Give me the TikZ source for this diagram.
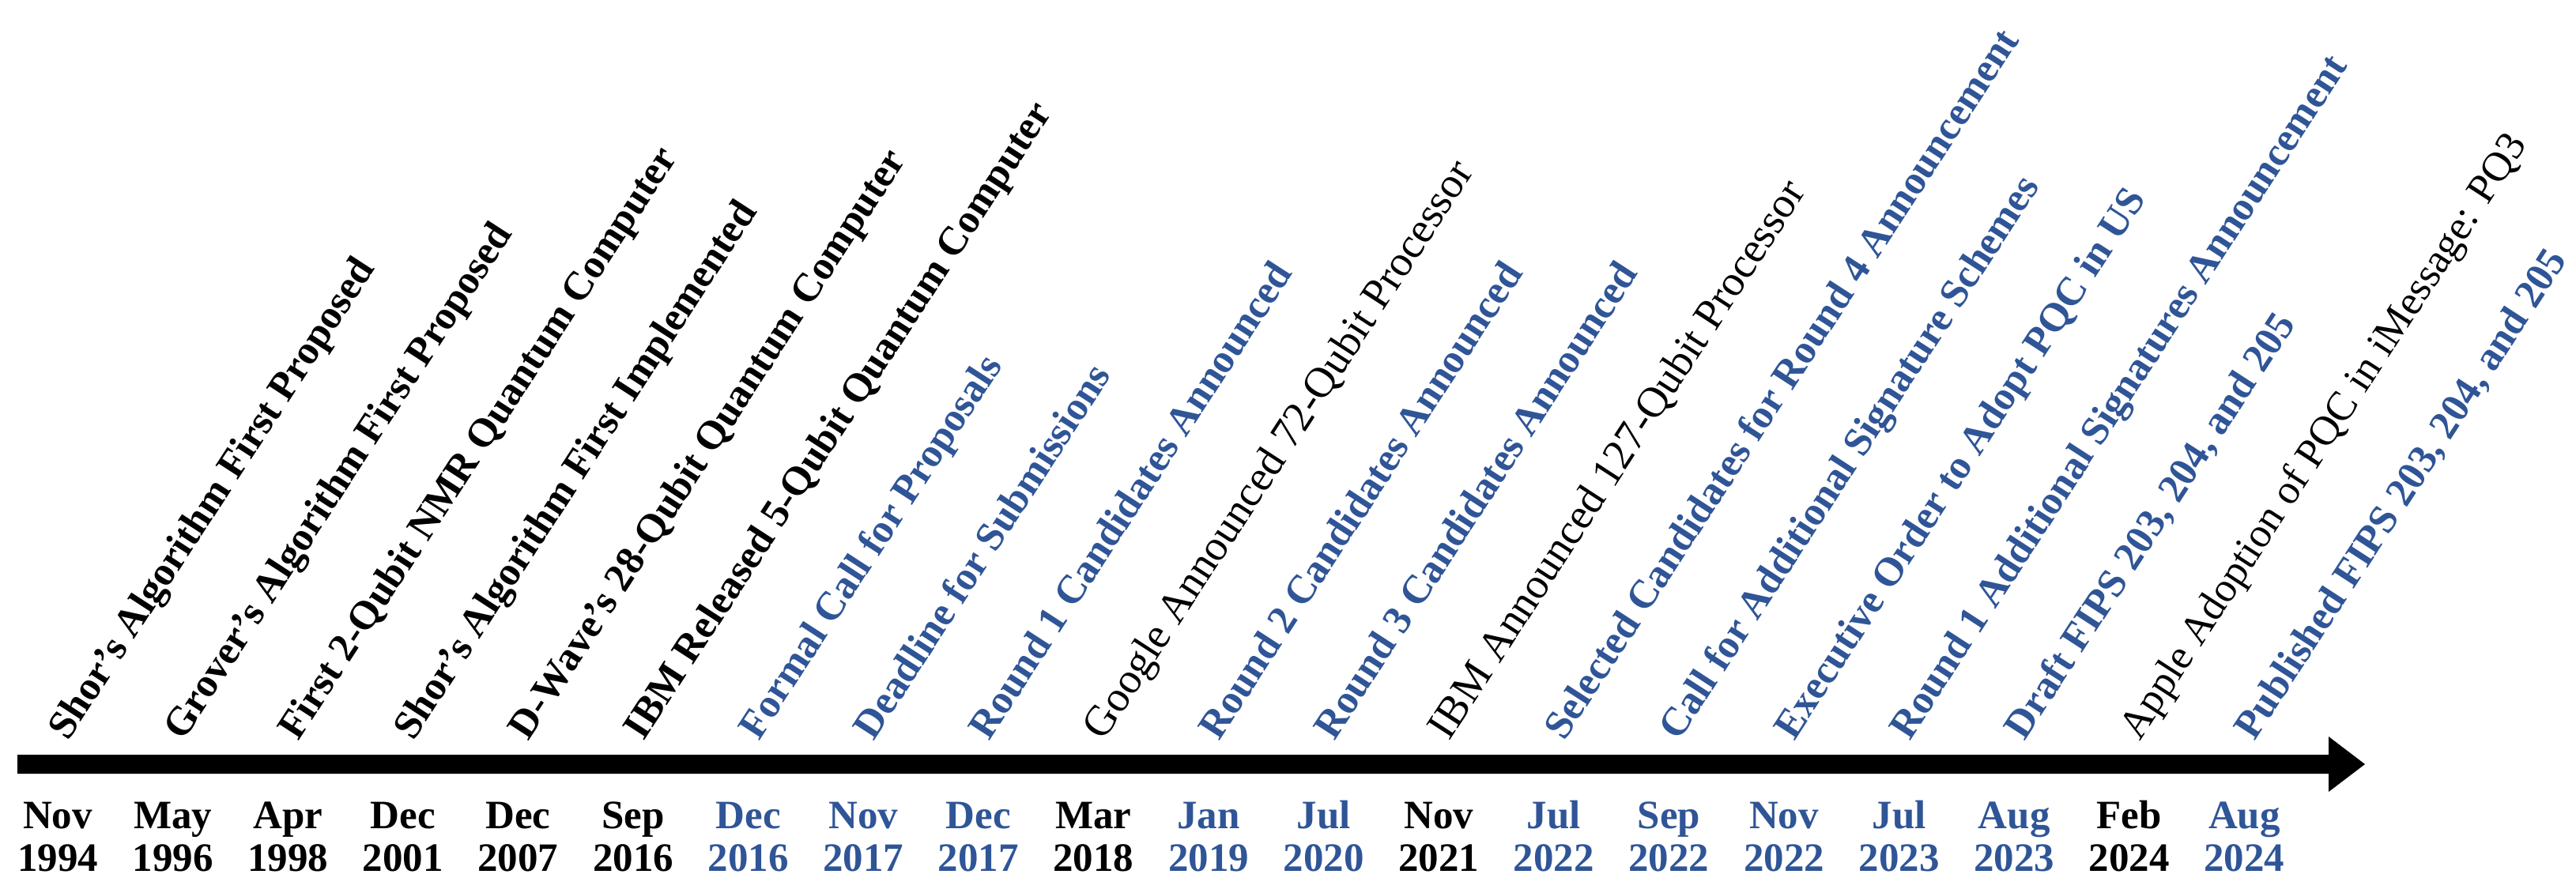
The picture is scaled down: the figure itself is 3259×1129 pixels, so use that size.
\documentclass[tikz,border=0pt]{standalone}
\usepackage{fontspec}
\setmainfont{Liberation Serif}
\definecolor{pqblue}{RGB}{47,85,151}
\begin{document}
\begin{tikzpicture}[x=0.25pt,y=-0.25pt,
  evbase/.style={anchor=base west, inner sep=0pt, rotate=57, font=\fontsize{12.75}{13.5}\selectfont},
  evb/.style={evbase, font=\fontsize{12.75}{13.5}\selectfont\bfseries, text=black},
  evr/.style={evbase, font=\fontsize{13.6}{14.5}\selectfont, text=black},
  evs/.style={evbase, font=\fontsize{13.1}{14}\selectfont, text=black},
  evu/.style={evbase, font=\fontsize{12.75}{13.5}\selectfont\bfseries, text=pqblue},
  dtbase/.style={anchor=base, inner sep=0pt, font=\fontsize{12.75}{13.5}\selectfont\bfseries},
  dtb/.style={dtbase, text=black},
  dtu/.style={dtbase, text=pqblue}]
\useasboundingbox (0,0) rectangle (3259,1129);
% timeline arrow
\coordinate (tl0) at (22,967);
\coordinate (tl1) at (2992,967);
\fill[black] (22,955) -- (2946,955) -- (2946,932) -- (tl1) -- (2946,1002) -- (2946,979) -- (22,979) -- cycle;
\foreach \mon/\yr/\txt/\ls/\ds [count=\i from 0] in {
 Nov/1994/{Shor’s Algorithm First Proposed}/evb/dtb,
 May/1996/{Grover’s Algorithm First Proposed}/evb/dtb,
 Apr/1998/{First 2-Qubit NMR Quantum Computer}/evb/dtb,
 Dec/2001/{Shor’s Algorithm First Implemented}/evb/dtb,
 Dec/2007/{D-Wave’s 28-Qubit Quantum Computer}/evb/dtb,
 Sep/2016/{IBM Released 5-Qubit Quantum Computer}/evb/dtb,
 Dec/2016/{Formal Call for Proposals}/evu/dtu,
 Nov/2017/{Deadline for Submissions}/evu/dtu,
 Dec/2017/{Round 1 Candidates Announced}/evu/dtu,
 Mar/2018/{Google Announced 72-Qubit Processor}/evr/dtb,
 Jan/2019/{Round 2 Candidates Announced}/evu/dtu,
 Jul/2020/{Round 3 Candidates Announced}/evu/dtu,
 Nov/2021/{IBM Announced 127-Qubit Processor}/evr/dtb,
 Jul/2022/{Selected Candidates for Round 4 Announcement}/evu/dtu,
 Sep/2022/{Call for Additional Signature Schemes}/evu/dtu,
 Nov/2022/{Executive Order to Adopt PQC in US}/evu/dtu,
 Jul/2023/{Round 1 Additional Signatures Announcement}/evu/dtu,
 Aug/2023/{Draft FIPS 203, 204, and 205}/evu/dtu,
 Feb/2024/{Apple Adoption of PQC in iMessage: PQ3}/evs/dtb,
 Aug/2024/{Published FIPS 203, 204, and 205}/evu/dtu}{
  \pgfmathsetmacro{\xx}{73+145.6*\i}
  \pgfmathsetmacro{\xl}{\xx+13}
  \node[\ds] (m\i) at (\xx,1048) {\mon};
  \node[\ds] (y\i) at (\xx,1102) {\yr};
  \node[\ls] (e\i) at (\xl,939) {\txt};
}
\end{tikzpicture}
\end{document}
